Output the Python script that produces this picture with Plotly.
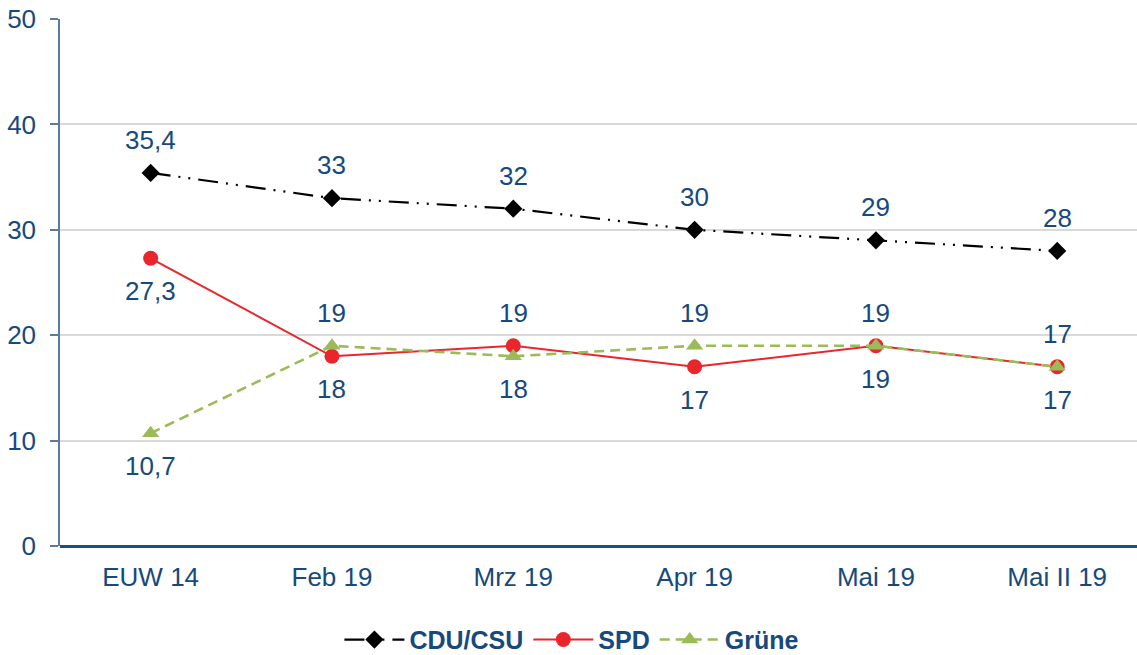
import plotly.graph_objects as go

categories = ["EUW 14", "Feb 19", "Mrz 19", "Apr 19", "Mai 19", "Mai II 19"]
cdu = [35.4, 33, 32, 30, 29, 28]
spd = [27.3, 18, 19, 17, 19, 17]
gruene = [10.7, 19, 18, 19, 19, 17]
y_ticks = [0, 10, 20, 30, 40, 50]

# label placement (style): +1 above, -1 below
cdu_pos = [1, 1, 1, 1, 1, 1]
spd_pos = [-1, -1, 1, -1, 1, 1]
gruene_pos = [-1, 1, -1, 1, -1, -1]

TXT = "#17497d"
FONT = "Liberation Sans, Arial, sans-serif"
FS = 26

def fmt(v):
    s = ("%g" % v)
    return s.replace(".", ",")

fig = go.Figure()
fig.add_trace(go.Scatter(x=categories, y=cdu, name="CDU/CSU", mode="lines+markers",
                         line=dict(color="black", width=2.2, dash="20px,8px,2px,8px,2px,8px"),
                         marker=dict(symbol="diamond", size=14, color="black")))
fig.add_trace(go.Scatter(x=categories, y=spd, name="SPD", mode="lines+markers",
                         line=dict(color="#e8262c", width=2),
                         marker=dict(symbol="circle", size=15, color="#e8262c")))
fig.add_trace(go.Scatter(x=categories, y=gruene, name="Grüne", mode="lines+markers",
                         line=dict(color="#9bbb59", width=2.6, dash="10px,6px"),
                         marker=dict(symbol="triangle-up", size=15, color="#9bbb59")))

annotations = []
for vals, pos in ((cdu, cdu_pos), (spd, spd_pos), (gruene, gruene_pos)):
    for c, v, p in zip(categories, vals, pos):
        annotations.append(dict(x=c, y=v, text=fmt(v), showarrow=False,
                                yshift=33 * p, font=dict(family=FONT, size=FS, color=TXT)))

fig.update_layout(
    width=1137, height=655,
    margin=dict(l=60, r=0, t=19, b=109, autoexpand=False),
    paper_bgcolor="white", plot_bgcolor="white",
    font=dict(family=FONT, size=FS, color=TXT),
    annotations=annotations,
    showlegend=True,
    legend=dict(orientation="h", x=0.503, xanchor="center", xref="container",
                y=-0.178, yanchor="middle", yref="paper",
                font=dict(family=FONT, size=25, color=TXT, weight="bold"),
                itemwidth=60, bgcolor="rgba(0,0,0,0)"),
)
fig.update_xaxes(type="category", range=[-0.5, 5.44], showgrid=False, ticks="",
                 showline=False, zeroline=False, ticklabelstandoff=13, automargin=False,
                 tickfont=dict(family=FONT, size=FS, color=TXT))
fig.update_yaxes(range=[0, 50], tickvals=y_ticks, showgrid=True, gridcolor="#d9d9d9", gridwidth=1.5,
                 zeroline=True, zerolinecolor="#1f4e79", zerolinewidth=3,
                 showline=True, linecolor="#5a7aa0", linewidth=1.5, automargin=False,
                 ticks="outside", ticklen=8, tickcolor="#5a7aa0", tickwidth=1.5,
                 ticklabelstandoff=9, ticklabeloverflow="allow",
                 tickfont=dict(family=FONT, size=FS, color=TXT))

fig.write_html("out.html", config={"displayModeBar": False},
               post_script="document.body.style.margin='0';document.body.style.overflow='hidden';")
